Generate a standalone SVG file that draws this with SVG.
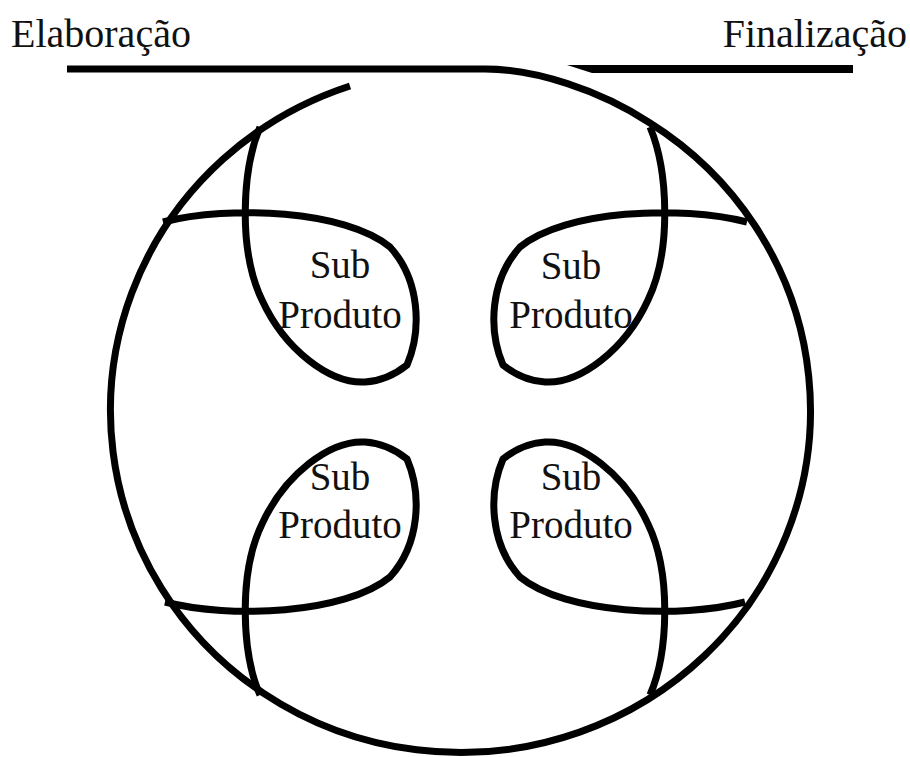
<svg xmlns="http://www.w3.org/2000/svg" width="910" height="757" viewBox="0 0 910 757">
<style>
.ln{fill:none;stroke:#000;stroke-width:7;stroke-linecap:butt;stroke-linejoin:round}
.t{font-family:"Liberation Serif","Times New Roman",serif;fill:#111}
.lbl{font-size:39px;text-anchor:middle}
.ttl{font-size:40px}
</style>
<rect width="910" height="757" fill="#fff"/>
<g id="titles">
<text class="t ttl" x="11" y="47">Elaboração</text>
<text class="t ttl" x="907" y="47" text-anchor="end">Finalização</text>
</g>
<g id="connectors">
<path class="ln" d="M67,69 L485,69 C535,69 600,90 650,123 A350,342 0 1 1 350,86"/>
<polygon points="567,65 853,65 853,73 592,73" fill="#000"/>
</g>
<g id="subproduto-tl">
<path class="ln" d="M260,127 C242,170 238,250 262,300 C285,350 330,384 365,382 C382,381 397,373 407,365 C422,330 420,280 390,247 C345,210 230,205 163,222"/>
<text class="t lbl" x="340" y="278">Sub</text>
<text class="t lbl" x="340" y="328">Produto</text>
</g>
<g id="subproduto-tr">
<path class="ln" d="M650,127 C668,170 672,250 648,300 C625,350 580,384 545,382 C528,381 513,373 503,365 C488,330 490,280 520,247 C565,210 680,205 747,222"/>
<text class="t lbl" x="571" y="279">Sub</text>
<text class="t lbl" x="571" y="328">Produto</text>
</g>
<g id="subproduto-bl">
<path class="ln" d="M260,695 C242,654 238,574 262,524 C285,474 330,440 365,442 C382,443 397,451 407,459 C422,494 420,544 390,577 C345,614 230,619 165,602"/>
<text class="t lbl" x="340" y="490">Sub</text>
<text class="t lbl" x="340" y="538">Produto</text>
</g>
<g id="subproduto-br">
<path class="ln" d="M650,695 C668,654 672,574 648,524 C625,474 580,440 545,442 C528,443 513,451 503,459 C488,494 490,544 520,577 C565,614 680,619 745,602"/>
<text class="t lbl" x="571" y="490">Sub</text>
<text class="t lbl" x="571" y="538">Produto</text>
</g>
</svg>
